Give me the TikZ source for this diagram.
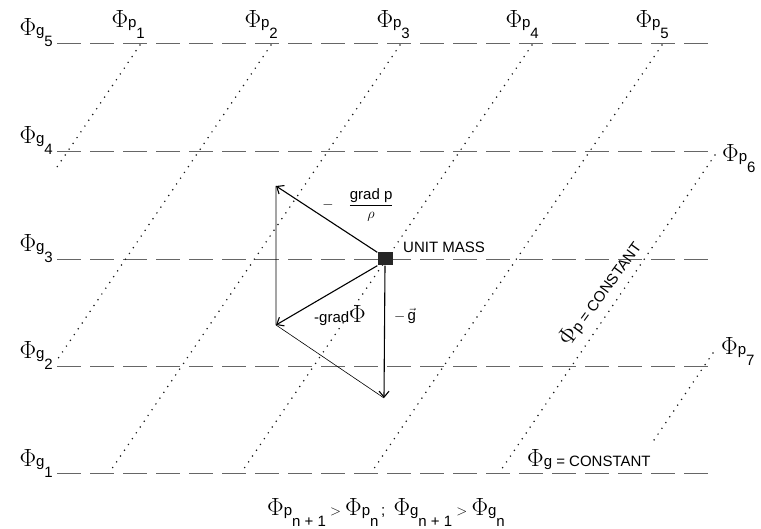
\documentclass[tikz,border=0pt]{standalone}
\usepackage{fontspec}
\setmainfont{Liberation Sans}
\usetikzlibrary{arrows.meta}

% big Phi, and Phi with a letter and a low index
\newcommand{\bigphi}{{\fontsize{23}{25}\selectfont$\Phi$}}
\newcommand{\phsub}[2]{\bigphi#1\raisebox{-11pt}{#2}}

\begin{document}
\begin{tikzpicture}[x=1pt,y=-1pt,
  font=\fontsize{15}{18}\selectfont,
  gline/.style={draw=black!60, line width=0.9pt, dash pattern=on 24pt off 9pt},
  pline/.style={draw=black!90, line width=1.7pt, line cap=round, dash pattern=on 0pt off 7pt},
  force/.style={line width=1.1pt, -{Straight Barb[length=6pt,width=10pt]}},
  side/.style={line width=0.6pt},
  lbl/.style={inner sep=0pt}]
\useasboundingbox (0,0) rectangle (761,529);

% surfaces Phi_g = const
\foreach \i/\y in {1/473,2/366,3/259,4/151,5/43}{
  \draw[gline] (57,\y) -- (715,\y);
  \node[lbl, anchor=base east] (g\i) at (53,\y-7) {\phsub{g}{\i}};
}

% surfaces Phi_p = const
\foreach \xa/\ya/\xb/\yb in {140/45/55/170, 271/45/55/363, 400/45/109/473,
    532/45/241/473, 662/45/371/473, 715/155/499/473, 713/353/652/443}
  \draw[pline] (\xa,\ya) -- (\xb,\yb);

\foreach \i/\x in {1/145,2/278,3/410,4/539,5/669}
  \node[lbl, anchor=base east] (p\i) at (\x,28) {\phsub{p}{\i}};
\node[lbl, anchor=base west] (p6) at (722,162) {\phsub{p}{6}};
\node[lbl, anchor=base west] (p7) at (721,355) {\phsub{p}{7}};

% forces on the unit mass
\node[fill=black!85, minimum width=15pt, minimum height=13pt, inner sep=0pt] (mass) at (385,259) {};
\coordinate (pres) at (276,186);
\coordinate (grav) at (276,325);
\coordinate (gvec) at (384,398);
\draw[force] (mass.north west) -- (pres);
\draw[force] (mass.south west) -- (grav);
\draw[force] (mass.south) -- (gvec);
\draw[side] (pres) -- (grav) -- (gvec);

\node[lbl] (presl) at (358,205) {$-\quad\displaystyle\frac{\textrm{grad p}}{\rho}$};
\node[lbl] (gravl) at (340,316) {-grad\bigphi};
\node[lbl] (gvecl) at (405,316) {$-\,\vec{\textrm{g}}$};
\node[lbl, anchor=west] (massl) at (403,247) {UNIT MASS};

\node[lbl, rotate=54] (pconst) at (600,293) {\bigphi p = CONSTANT};
\node[lbl, anchor=west] (gconst) at (527,460) {\bigphi g = CONSTANT};

\node[lbl] (rule) at (386,513) {\phsub{p}{n + 1} $>$ \phsub{p}{n}\,;\; \phsub{g}{n + 1} $>$ \phsub{g}{n}};
\end{tikzpicture}
\end{document}
